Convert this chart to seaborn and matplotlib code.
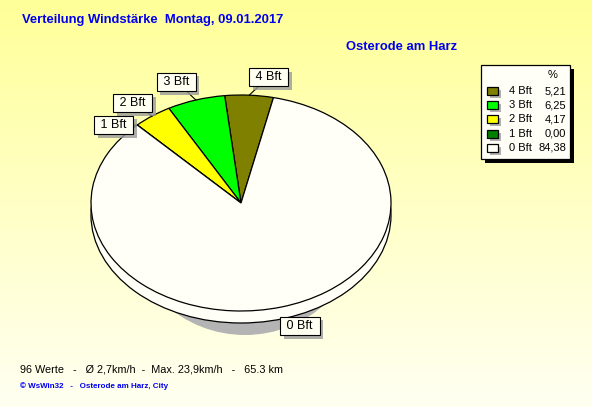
import numpy as np
import matplotlib
matplotlib.use('Agg')
import matplotlib.pyplot as plt
import seaborn as sns
from matplotlib.patches import Ellipse, Rectangle
import matplotlib.patheffects as pe

# ---- data ----
categories = ['4 Bft', '3 Bft', '2 Bft', '1 Bft', '0 Bft']
percent = [5.21, 6.25, 4.17, 0.00, 84.38]
colors = ['#808000', '#00FF00', '#FFFF00', '#008000', '#FFFFF8']
title = 'Verteilung Windstärke  Montag, 09.01.2017'
station = 'Osterode am Harz'
footer = '96 Werte   -   Ø 2,7km/h  -  Max. 23,9km/h   -   65.3 km'
credit = '© WsWin32   -   Osterode am Harz, City'

sns.set_theme(style='white')
plt.rcParams['font.family'] = ['Liberation Sans', 'DejaVu Sans']

W, H = 592, 407
fig = plt.figure(figsize=(W / 100, H / 100), dpi=100)

# background gradient
bg = fig.add_axes([0, 0, 1, 1], zorder=0)
g = np.linspace(0, 1, 256)[:, None, None]
top = np.array([255, 255, 153]) / 255
bot = np.array([255, 255, 242]) / 255
img = top[None, None, :] * (1 - g) + bot[None, None, :] * g
img = np.repeat(img, 2, axis=1)
bg.imshow(img, aspect='auto', extent=[0, 1, 0, 1], origin='upper')
bg.axis('off')

# pie axes (ellipse via unequal scaling)
cx, cy, rx, ry, depth = 241, 203, 150, 108, 12
ax = fig.add_axes([0, 0, 1, 1], zorder=1)
ax.patch.set_alpha(0)
d = depth / ry
ax.add_patch(Ellipse((4 / rx, -22 / ry), 2 * 115 / rx, 2 * 110 / ry,
                     fc='#B4B4B4', ec='none', zorder=0))
ax.add_patch(Ellipse((0, -d), 2, 2, fc=colors[-1], ec='black', lw=0.9, zorder=1))
wedges, _ = ax.pie(percent, colors=colors, startangle=77.5, counterclock=True,
                   wedgeprops=dict(edgecolor='black', linewidth=0.9))
for w in wedges:
    w.set_zorder(2)
ax.set_aspect('auto')
ax.set_xlim(-cx / rx, (W - cx) / rx)
ax.set_ylim(-(H - cy) / ry, cy / ry)
ax.axis('off')

# wedge labels
for w, lab in zip(wedges, categories):
    th = np.deg2rad((w.theta1 + w.theta2) / 2)
    c, s = np.cos(th), np.sin(th)
    sx = 1 if c >= 0 else -1
    ha = 'left' if c >= 0 else 'right'
    if abs(s) > 0.75:
        if s > 0:
            va, xy, off = 'bottom', (c, s), (3 * sx, 12 if s > 0.9 else 7)
        else:
            va, xy, off = 'top', (c, s - d), (2 * sx, -1)
    else:
        va, xy, off = 'center', (c, s), (7 * sx, 0)
    ann = ax.annotate(' ' + lab + ' ', xy=xy, xytext=off, textcoords='offset pixels',
                      ha=ha, va=va, fontsize=9, color='black', zorder=5,
                      bbox=dict(boxstyle='square,pad=0.25', fc='#FFFFF2', ec='black', lw=0.8),
                      arrowprops=dict(arrowstyle='-', color='black', lw=0.8,
                                      shrinkA=0, shrinkB=0))
    ann.get_bbox_patch().set_path_effects(
        [pe.SimplePatchShadow(offset=(2.5, -2.5), shadow_rgbFace='#9A9A9A', alpha=0.8),
         pe.Normal()])

# overlay for text and legend (pixel coordinates)
ov = fig.add_axes([0, 0, 1, 1], zorder=3)
ov.patch.set_alpha(0)
ov.set_xlim(0, W)
ov.set_ylim(H, 0)
ov.axis('off')

ov.text(22, 20, title, fontsize=9.4, fontweight='bold', color='#0000F0', va='center', ha='left')
ov.text(346, 47, station, fontsize=9.4, fontweight='bold', color='#0000F0', va='center', ha='left')
ov.text(20, 369, footer, fontsize=7.8, color='black', va='center', ha='left')
ov.text(20, 386, credit, fontsize=5.8, fontweight='bold', color='#0000F0', va='center', ha='left')

# legend
ov.add_patch(Rectangle((485, 69), 89, 94, fc='black', ec='none'))
ov.add_patch(Rectangle((481, 65), 89, 94, fc='#FFFFF8', ec='black', lw=0.9))
ov.text(553, 75, '%', fontsize=8, ha='center', va='center', color='black')
for i, (lab, val, col) in enumerate(zip(categories, percent, colors)):
    y = 91 + i * 14.2
    ov.add_patch(Rectangle((490, y - 1), 11, 8, fc='#B0B0B0', ec='none'))
    ov.add_patch(Rectangle((487, y - 4), 11, 8, fc=col, ec='black', lw=0.9))
    ov.text(509, y, lab, fontsize=8, ha='left', va='center', color='black')
    ov.text(566, y, f'{val:.2f}'.replace('.', ','), fontsize=8, ha='right',
            va='center', color='black')

fig.savefig('out.png', dpi=100)
